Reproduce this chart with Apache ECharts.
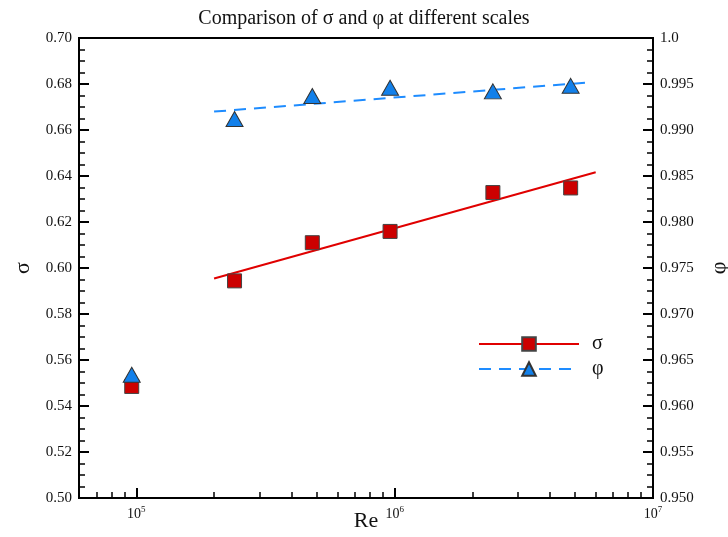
<!DOCTYPE html>
<html>
<head>
<meta charset="utf-8">
<script src="https://cdn.jsdelivr.net/npm/echarts@6/dist/echarts.min.js"></script>
<style>
  html, body { margin: 0; padding: 0; background: #fff; }
  #main { width: 728px; height: 537px; }
</style>
</head>
<body>
<div id="main"></div>
<script>
// measured points
const reValues = [9.6e4, 2.4e5, 4.8e5, 9.6e5, 2.4e6, 4.8e6];
const sigmaValues = [0.5485, 0.5944, 0.6110, 0.6159, 0.6328, 0.6348];
const phiValues = [0.9634, 0.9912, 0.9937, 0.9946, 0.9942, 0.9948];

// fitted lines (end points)
const sigmaFitRe = [2e5, 6e6];
const sigmaFit = [0.5954, 0.6416];
const phiFitRe = [2e5, 5.8e6];
const phiFit = [0.9920, 0.9952];

// x axis range and minor tick values
const reMin = 6e4;
const reMax = 1e7;
let minorRe = [];
for (let e = 4; e <= 6; e++) {
  for (let k = 2; k <= 9; k++) {
    let v = k * Math.pow(10, e);
    if (v > reMin && v < reMax) minorRe.push(Math.log10(v));
  }
}

const serif = 'Liberation Serif';
const pairs = (xs, ys) => xs.map((x, i) => [x, ys[i]]);

let chart = echarts.init(document.getElementById('main'));
chart.setOption({
  animation: false,
  title: {
    text: 'Comparison of σ and φ at different scales',
    left: 'center',
    top: 4,
    textStyle: { fontFamily: serif, fontSize: 20, fontWeight: 'normal', color: '#111' }
  },
  legend: {
    orient: 'vertical',
    left: 473,
    top: 329,
    itemWidth: 100,
    itemHeight: 17,
    itemGap: 5,
    selectedMode: false,
    data: ['σ', 'φ'],
    textStyle: { fontFamily: serif, fontSize: 20, color: '#111', padding: [0, 0, 0, 8] }
  },
  grid: {
    left: 79, right: 75, top: 38, bottom: 39,
    outerBoundsMode: 'none',
    show: true, borderColor: '#000', borderWidth: 2
  },
  xAxis: [
    {
      type: 'log',
      logBase: 10,
      min: reMin,
      max: reMax,
      name: 'Re',
      nameLocation: 'middle',
      nameGap: 12,
      nameMoveOverlap: false,
      nameTextStyle: { fontFamily: serif, fontSize: 22, color: '#111', verticalAlign: 'top' },
      axisLine: { lineStyle: { color: '#000', width: 2 } },
      axisTick: { inside: true, length: 10, lineStyle: { color: '#000', width: 2 } },
      splitLine: { show: false },
      axisLabel: {
        margin: 7,
        fontFamily: serif,
        fontSize: 14,
        color: '#111',
        formatter: function (v) {
          let e = Math.round(Math.log10(v));
          if (Math.abs(Math.log10(v) - e) > 1e-6) return '';
          return '10{s|' + e + '}';
        },
        rich: {
          s: { fontFamily: serif, fontSize: 9, color: '#111', padding: [0, 0, 9, 0] }
        }
      }
    },
    {
      type: 'value',
      min: Math.log10(reMin),
      max: Math.log10(reMax),
      position: 'bottom',
      axisLine: { show: false },
      axisLabel: { show: false },
      splitLine: { show: false },
      axisTick: {
        show: true, inside: true, length: 6,
        customValues: minorRe,
        lineStyle: { color: '#000', width: 1.5 }
      }
    }
  ],
  yAxis: [
    {
      type: 'value',
      min: 0.5,
      max: 0.7,
      interval: 0.02,
      name: 'σ',
      nameLocation: 'middle',
      nameGap: 45,
      nameMoveOverlap: false,
      nameTextStyle: { fontFamily: serif, fontSize: 22, color: '#111' },
      axisLine: { show: true, lineStyle: { color: '#000', width: 2 } },
      axisTick: { inside: true, length: 10, lineStyle: { color: '#000', width: 2 } },
      minorTick: { show: true, splitNumber: 4, length: 6, lineStyle: { color: '#000', width: 1.5 } },
      splitLine: { show: false },
      axisLabel: {
        margin: 7, fontFamily: serif, fontSize: 15, color: '#111',
        formatter: v => v.toFixed(2)
      }
    },
    {
      type: 'value',
      min: 0.95,
      max: 1.0,
      interval: 0.005,
      position: 'right',
      name: 'φ',
      nameLocation: 'middle',
      nameGap: 55,
      nameMoveOverlap: false,
      nameTextStyle: { fontFamily: serif, fontSize: 22, color: '#111' },
      axisLine: { show: true, lineStyle: { color: '#000', width: 2 } },
      axisTick: { inside: true, length: 10, lineStyle: { color: '#000', width: 2 } },
      minorTick: { show: true, splitNumber: 4, length: 6, lineStyle: { color: '#000', width: 1.5 } },
      splitLine: { show: false },
      axisLabel: {
        margin: 7, fontFamily: serif, fontSize: 15, color: '#111',
        formatter: v => (Math.abs(v - 1) < 1e-9 ? '1.0' : v.toFixed(3))
      }
    }
  ],
  series: [
    {
      name: 'σ',
      type: 'line',
      yAxisIndex: 0,
      data: pairs(sigmaFitRe, sigmaFit),
      symbol: 'rect',
      showSymbol: false,
      itemStyle: { color: '#cc0000', borderColor: '#444', borderWidth: 1 },
      lineStyle: { color: '#e00000', width: 2 },
      z: 2
    },
    {
      name: 'φ',
      type: 'line',
      yAxisIndex: 1,
      data: pairs(phiFitRe, phiFit),
      symbol: 'triangle',
      showSymbol: false,
      itemStyle: { color: '#1280ea', borderColor: '#333', borderWidth: 1 },
      lineStyle: { color: '#1e8cff', width: 2, type: [12, 8] },
      z: 2
    },
    {
      name: 'σ data',
      type: 'scatter',
      yAxisIndex: 0,
      data: pairs(reValues, sigmaValues),
      symbol: 'rect',
      symbolSize: 14,
      itemStyle: { color: '#cc0000', borderColor: '#444', borderWidth: 1, opacity: 1 },
      z: 3
    },
    {
      name: 'φ data',
      type: 'scatter',
      yAxisIndex: 1,
      data: pairs(reValues, phiValues),
      symbol: 'triangle',
      symbolSize: [17, 15],
      itemStyle: { color: '#1280ea', borderColor: '#333', borderWidth: 1, opacity: 1 },
      z: 3
    }
  ]
});
</script>
</body>
</html>
